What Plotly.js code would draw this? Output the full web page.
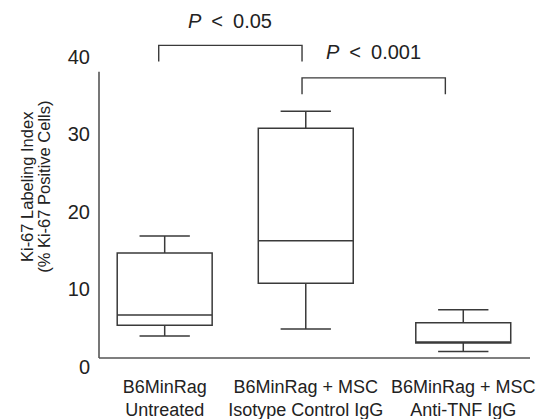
<!DOCTYPE html>
<html>
<head>
<meta charset="utf-8">
<script src="https://cdn.plot.ly/plotly-3.0.1.min.js"></script>
<style>html,body{margin:0;padding:0;background:#fff;}#chart{width:547px;height:419px;}</style>
</head>
<body>
<div id="chart"></div>
<script>
// Data
var categories = ["B6MinRag<br>Untreated", "B6MinRag + MSC<br>Isotype Control IgG", "B6MinRag + MSC<br>Anti-TNF IgG"];
var groupPos = [0, 0.945, 2];
var lowerWhisker = [4.0, 4.9, 2.0];
var q1 = [5.4, 10.8, 3.1];
var median = [6.7, 16.3, 3.1];
var q3 = [14.7, 30.8, 5.7];
var upperWhisker = [16.9, 33.0, 7.4];
var yTicks = [0, 10, 20, 30, 40];
var comparisons = [
  {label: "<i>P</i>\u2002<\u20020.05", from: -0.04, to: 0.92, level: 41.5, drop: 2.1, textLevel: 44.6},
  {label: "<i>P</i>\u2002<\u20020.001", from: 0.92, to: 1.88, level: 37.3, drop: 2.1, textLevel: 40.7}
];

var lineCol = "#3a3a3a";
var fontFam = "Liberation Sans, Arial, sans-serif";
var trace = {
  type: "box",
  x: groupPos,
  q1: q1, median: median, q3: q3,
  lowerfence: lowerWhisker, upperfence: upperWhisker,
  width: 0.636,
  whiskerwidth: 0.53,
  fillcolor: "rgba(0,0,0,0)",
  line: {color: lineCol, width: 1.5},
  boxpoints: false,
  hoverinfo: "skip",
  showlegend: false
};

var shapes = [
  {type: "line", xref: "paper", yref: "y", x0: 0, x1: 0, y0: 1.16, y1: 38.1, line: {color: "#555", width: 1.6}},
  {type: "line", xref: "paper", yref: "y", x0: 0, x1: 1, y0: 1.16, y1: 1.16, line: {color: "#555", width: 1.6}}
];
var annotations = [];
comparisons.forEach(function (c) {
  shapes.push({type: "path", xref: "x", yref: "y",
    path: "M" + c.from + "," + (c.level - c.drop) + " L" + c.from + "," + c.level + " L" + c.to + "," + c.level + " L" + c.to + "," + (c.level - c.drop),
    line: {color: lineCol, width: 1.4}});
  annotations.push({xref: "x", yref: "y", x: (c.from + c.to) / 2, y: c.textLevel, text: c.label, showarrow: false,
    font: {family: fontFam, size: 20, color: "#222"}});
});
annotations.push({xref: "paper", yref: "paper", x: -0.167, y: 0.511, xanchor: "center", yanchor: "middle",
  text: "Ki-67 Labeling Index", textangle: -90, showarrow: false,
  font: {family: fontFam, size: 16.5, color: "#222"}});
annotations.push({xref: "paper", yref: "paper", x: -0.128, y: 0.511, xanchor: "center", yanchor: "middle",
  text: "(% Ki-67 Positive Cells)", textangle: -90, showarrow: false,
  font: {family: fontFam, size: 16.5, color: "#222"}});

var layout = {
  width: 547, height: 419,
  margin: {l: 99, r: 17, t: 10, b: 47},
  paper_bgcolor: "#fff", plot_bgcolor: "#fff",
  font: {family: fontFam, color: "#222"},
  xaxis: {range: [-0.44, 2.447], tickvals: groupPos, ticktext: categories, showgrid: false, zeroline: false,
    showline: false, ticks: "", tickfont: {size: 18, color: "#222"}, ticklabelstandoff: 2, fixedrange: true},
  yaxis: {range: [-0.645, 46.06], tickvals: yTicks, showgrid: false, zeroline: false, showline: false, ticks: "",
    tickfont: {size: 20, color: "#222"}, ticklabelstandoff: 8, fixedrange: true},
  shapes: shapes,
  annotations: annotations,
  showlegend: false
};
Plotly.newPlot("chart", [trace], layout, {displayModeBar: false, staticPlot: true});
</script>
</body>
</html>
